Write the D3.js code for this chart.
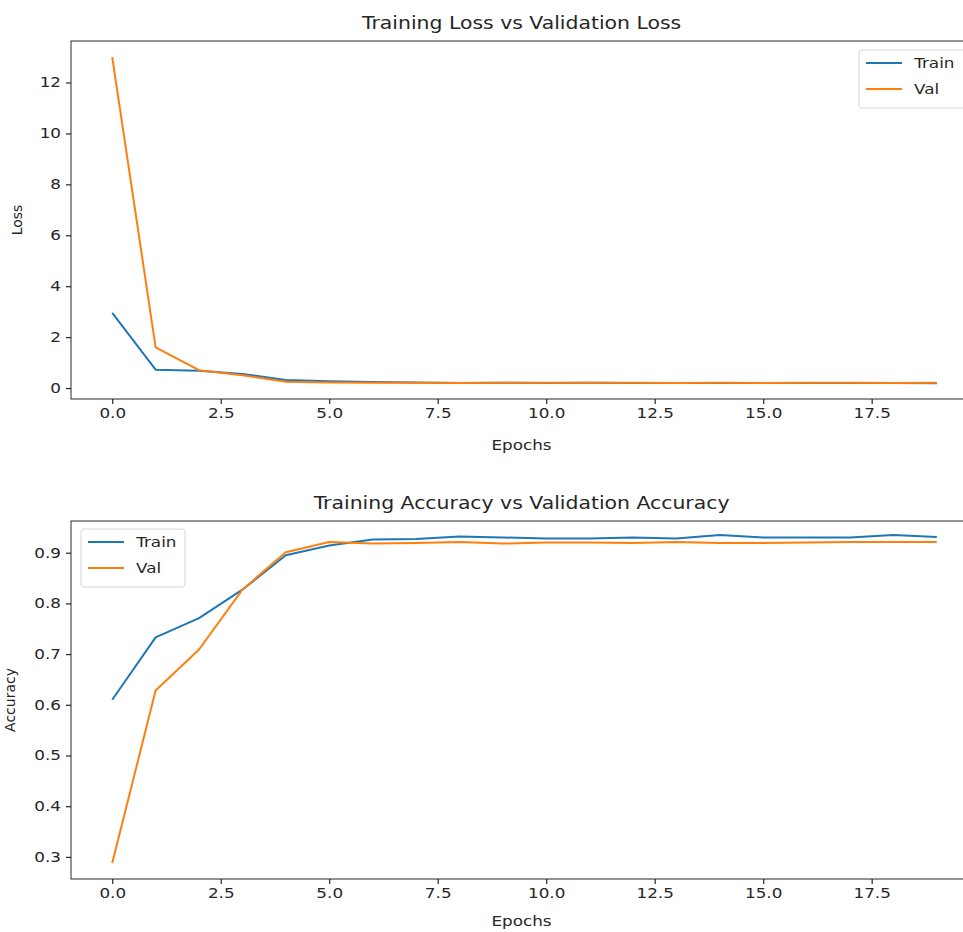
<!DOCTYPE html>
<html><head><meta charset="utf-8">
<script src="https://cdn.jsdelivr.net/npm/d3@7"></script>
<style>
body{margin:0;background:#fff}svg{display:block}
text{font-family:"DejaVu Sans",sans-serif;fill:#262626}
.sc{transform-box:fill-box;transform-origin:center;transform:scaleX(1.2)}
.sr{transform-box:fill-box;transform-origin:right center;transform:scaleX(1.2)}
.sl{transform-box:fill-box;transform-origin:left center;transform:scaleX(1.2)}
</style>
</head><body><svg id="c" width="963" height="932"></svg>
<script>
const epochs = d3.range(0, 20);
const trainLoss = [2.95, 0.72, 0.68, 0.55, 0.32, 0.27, 0.24, 0.22, 0.20, 0.21, 0.20, 0.21, 0.20, 0.20, 0.20, 0.20, 0.20, 0.20, 0.20, 0.19];
const valLoss   = [13.0, 1.60, 0.70, 0.50, 0.25, 0.22, 0.21, 0.21, 0.20, 0.21, 0.21, 0.21, 0.21, 0.20, 0.21, 0.20, 0.21, 0.21, 0.20, 0.21];
const trainAcc  = [0.610, 0.733, 0.771, 0.827, 0.895, 0.914, 0.926, 0.927, 0.932, 0.930, 0.928, 0.928, 0.930, 0.928, 0.935, 0.930, 0.930, 0.930, 0.935, 0.931];
const valAcc    = [0.288, 0.628, 0.709, 0.827, 0.901, 0.921, 0.918, 0.919, 0.921, 0.918, 0.920, 0.920, 0.919, 0.921, 0.919, 0.919, 0.920, 0.921, 0.921, 0.921];
const xTicks = [0, 2.5, 5, 7.5, 10, 12.5, 15, 17.5];
const lossTicks = [0, 2, 4, 6, 8, 10, 12];
const accTicks = [0.3, 0.4, 0.5, 0.6, 0.7, 0.8, 0.9];
const seriesNames = ["Train", "Val"];
const colors = ["#1f77b4", "#ff7f0e"];

const svg = d3.select("#c");

function panel(cfg) {
  const {top, bottom, left, right, xDom, yDom, yTicks, yFmt, series, title, ylabel, ylabelX, xlabelOff, legend} = cfg;
  const x = d3.scaleLinear().domain(xDom).range([left, right]);
  const y = d3.scaleLinear().domain(yDom).range([bottom, top]);
  const g = svg.append("g");
  const line = d3.line().x((d, i) => x(epochs[i])).y(d => y(d));
  series.forEach((s, k) => {
    g.append("path").datum(s).attr("fill", "none").attr("stroke", colors[k])
      .attr("stroke-width", 2).attr("stroke-linejoin", "round").attr("d", line);
  });
  g.append("rect").attr("x", left).attr("y", top).attr("width", right - left).attr("height", bottom - top)
    .attr("fill", "none").attr("stroke", "#3a3a3a").attr("stroke-width", 1.1);
  const xa = g.append("g").attr("transform", `translate(0,${bottom})`)
    .call(d3.axisBottom(x).tickValues(xTicks).tickFormat(d3.format(".1f")).tickSize(5).tickPadding(4));
  const ya = g.append("g").attr("transform", `translate(${left},0)`)
    .call(d3.axisLeft(y).tickValues(yTicks).tickFormat(yFmt).tickSize(5).tickPadding(5));
  [xa, ya].forEach(a => {
    a.select(".domain").remove();
    a.selectAll("line").attr("stroke", "#262626").attr("stroke-width", 1.2);
    a.selectAll("text").style("font-size", "14px").style("font-family", "DejaVu Sans, sans-serif").attr("fill", "#262626");
  });
  xa.selectAll("text").attr("class", "sc");
  ya.selectAll("text").attr("class", "sr");
  g.append("text").attr("class", "sc").attr("x", (left + right) / 2 - 3).attr("y", top - 12).attr("text-anchor", "middle")
    .style("font-size", "17px").text(title);
  g.append("text").attr("class", "sc").attr("x", (left + right) / 2 - 3).attr("y", bottom + xlabelOff).attr("text-anchor", "middle")
    .style("font-size", "14px").text("Epochs");
  g.append("text").attr("transform", `translate(${ylabelX},${(top + bottom) / 2}) rotate(-90)`)
    .attr("text-anchor", "middle").style("font-size", "14px").text(ylabel);
  const lg = g.append("g").attr("transform", `translate(${legend.x},${legend.y})`);
  lg.append("rect").attr("x", 0).attr("y", 0).attr("width", legend.w).attr("height", 58).attr("rx", 3)
    .attr("fill", "#fff").attr("fill-opacity", 0.85).attr("stroke", "#d6d6d6");
  seriesNames.forEach((n, k) => {
    lg.append("line").attr("x1", 7).attr("x2", 43).attr("y1", 13 + k * 26).attr("y2", 13 + k * 26)
      .attr("stroke", colors[k]).attr("stroke-width", 2);
    lg.append("text").attr("class", "sl").attr("x", 55).attr("y", 13 + k * 26).attr("dy", "0.35em").style("font-size", "14px").text(n);
  });
}

panel({top: 41, bottom: 399, left: 71, right: 978, xDom: [-0.95, 19.95], yDom: [-0.43, 13.63],
  yTicks: lossTicks, yFmt: d3.format("d"), series: [trainLoss, valLoss],
  title: "Training Loss vs Validation Loss", ylabel: "Loss", ylabelX: 22, xlabelOff: 51,
  legend: {x: 859, y: 50, w: 115}});
panel({top: 521, bottom: 879, left: 71, right: 978, xDom: [-0.95, 19.95], yDom: [0.2564, 0.9625],
  yTicks: accTicks, yFmt: d3.format(".1f"), series: [trainAcc, valAcc],
  title: "Training Accuracy vs Validation Accuracy", ylabel: "Accuracy", ylabelX: 15, xlabelOff: 47,
  legend: {x: 81, y: 529, w: 104}});
</script></body></html>
